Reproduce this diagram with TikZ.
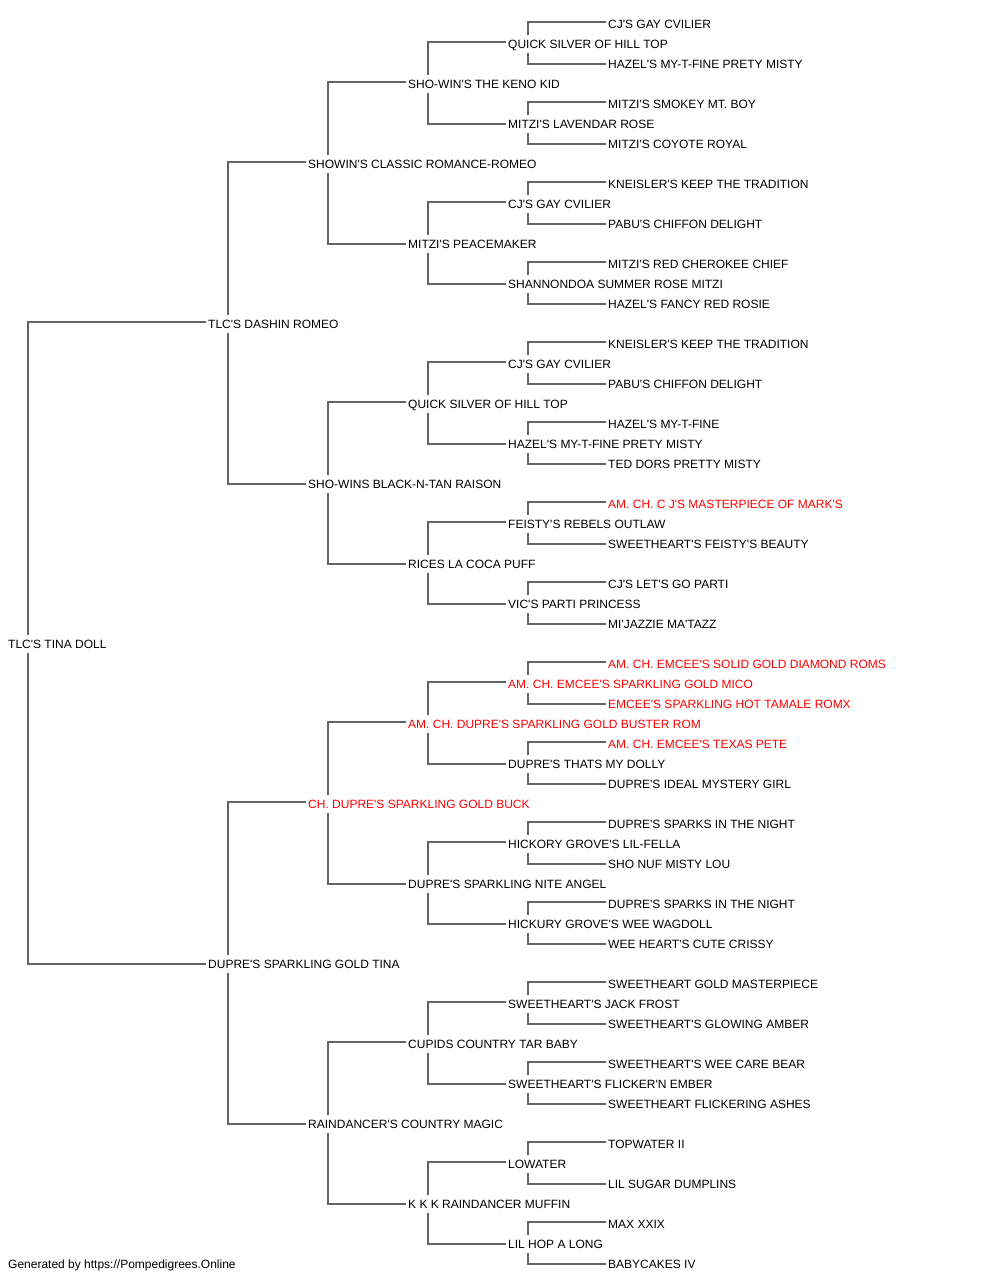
\documentclass[tikz,border=0pt]{standalone}
\usepackage{fontspec}
\newfontfamily\arialfont{Liberation Sans}
\definecolor{linegray}{RGB}{100,100,100}
\definecolor{redname}{RGB}{255,0,0}
\begin{document}
\begin{tikzpicture}[x=1pt,y=-1pt,
  lbl/.style={anchor=west,inner sep=0pt,text height=10pt,text depth=0pt,font=\arialfont\fontsize{12}{14}\selectfont},
  redlbl/.style={lbl,text=redname},
  conn/.style={draw=linegray,line width=1.1pt}]
\useasboundingbox[fill=white] (0,0) rectangle (1000,1280);
% level 0
\node[lbl] (n0-0) at (8,643) {TLC'S TINA DOLL};
% level 1
\node[lbl] (n1-0) at (208,323) {TLC'S DASHIN ROMEO};
\node[lbl] (n1-1) at (208,963) {DUPRE'S SPARKLING GOLD TINA};
% level 2
\node[lbl] (n2-0) at (308,163) {SHOWIN'S CLASSIC ROMANCE-ROMEO};
\node[lbl] (n2-1) at (308,483) {SHO-WINS BLACK-N-TAN RAISON};
\node[redlbl] (n2-2) at (308,803) {CH. DUPRE'S SPARKLING GOLD BUCK};
\node[lbl] (n2-3) at (308,1123) {RAINDANCER'S COUNTRY MAGIC};
% level 3
\node[lbl] (n3-0) at (408,83) {SHO-WIN'S THE KENO KID};
\node[lbl] (n3-1) at (408,243) {MITZI'S PEACEMAKER};
\node[lbl] (n3-2) at (408,403) {QUICK SILVER OF HILL TOP};
\node[lbl] (n3-3) at (408,563) {RICES LA COCA PUFF};
\node[redlbl] (n3-4) at (408,723) {AM. CH. DUPRE'S SPARKLING GOLD BUSTER ROM};
\node[lbl] (n3-5) at (408,883) {DUPRE'S SPARKLING NITE ANGEL};
\node[lbl] (n3-6) at (408,1043) {CUPIDS COUNTRY TAR BABY};
\node[lbl] (n3-7) at (408,1203) {K K K RAINDANCER MUFFIN};
% level 4
\node[lbl] (n4-0) at (508,43) {QUICK SILVER OF HILL TOP};
\node[lbl] (n4-1) at (508,123) {MITZI'S LAVENDAR ROSE};
\node[lbl] (n4-2) at (508,203) {CJ'S GAY CVILIER};
\node[lbl] (n4-3) at (508,283) {SHANNONDOA SUMMER ROSE MITZI};
\node[lbl] (n4-4) at (508,363) {CJ'S GAY CVILIER};
\node[lbl] (n4-5) at (508,443) {HAZEL'S MY-T-FINE PRETY MISTY};
\node[lbl] (n4-6) at (508,523) {FEISTY'S REBELS OUTLAW};
\node[lbl] (n4-7) at (508,603) {VIC'S PARTI PRINCESS};
\node[redlbl] (n4-8) at (508,683) {AM. CH. EMCEE'S SPARKLING GOLD MICO};
\node[lbl] (n4-9) at (508,763) {DUPRE'S THATS MY DOLLY};
\node[lbl] (n4-10) at (508,843) {HICKORY GROVE'S LIL-FELLA};
\node[lbl] (n4-11) at (508,923) {HICKURY GROVE'S WEE WAGDOLL};
\node[lbl] (n4-12) at (508,1003) {SWEETHEART'S JACK FROST};
\node[lbl] (n4-13) at (508,1083) {SWEETHEART'S FLICKER'N EMBER};
\node[lbl] (n4-14) at (508,1163) {LOWATER};
\node[lbl] (n4-15) at (508,1243) {LIL HOP A LONG};
% level 5
\node[lbl] (n5-0) at (608,23) {CJ'S GAY CVILIER};
\node[lbl] (n5-1) at (608,63) {HAZEL'S MY-T-FINE PRETY MISTY};
\node[lbl] (n5-2) at (608,103) {MITZI'S SMOKEY MT. BOY};
\node[lbl] (n5-3) at (608,143) {MITZI'S COYOTE ROYAL};
\node[lbl] (n5-4) at (608,183) {KNEISLER'S KEEP THE TRADITION};
\node[lbl] (n5-5) at (608,223) {PABU'S CHIFFON DELIGHT};
\node[lbl] (n5-6) at (608,263) {MITZI'S RED CHEROKEE CHIEF};
\node[lbl] (n5-7) at (608,303) {HAZEL'S FANCY RED ROSIE};
\node[lbl] (n5-8) at (608,343) {KNEISLER'S KEEP THE TRADITION};
\node[lbl] (n5-9) at (608,383) {PABU'S CHIFFON DELIGHT};
\node[lbl] (n5-10) at (608,423) {HAZEL'S MY-T-FINE};
\node[lbl] (n5-11) at (608,463) {TED DORS PRETTY MISTY};
\node[redlbl] (n5-12) at (608,503) {AM. CH. C J'S MASTERPIECE OF MARK'S};
\node[lbl] (n5-13) at (608,543) {SWEETHEART'S FEISTY'S BEAUTY};
\node[lbl] (n5-14) at (608,583) {CJ'S LET'S GO PARTI};
\node[lbl] (n5-15) at (608,623) {MI'JAZZIE MA'TAZZ};
\node[redlbl] (n5-16) at (608,663) {AM. CH. EMCEE'S SOLID GOLD DIAMOND ROMS};
\node[redlbl] (n5-17) at (608,703) {EMCEE'S SPARKLING HOT TAMALE ROMX};
\node[redlbl] (n5-18) at (608,743) {AM. CH. EMCEE'S TEXAS PETE};
\node[lbl] (n5-19) at (608,783) {DUPRE'S IDEAL MYSTERY GIRL};
\node[lbl] (n5-20) at (608,823) {DUPRE'S SPARKS IN THE NIGHT};
\node[lbl] (n5-21) at (608,863) {SHO NUF MISTY LOU};
\node[lbl] (n5-22) at (608,903) {DUPRE'S SPARKS IN THE NIGHT};
\node[lbl] (n5-23) at (608,943) {WEE HEART'S CUTE CRISSY};
\node[lbl] (n5-24) at (608,983) {SWEETHEART GOLD MASTERPIECE};
\node[lbl] (n5-25) at (608,1023) {SWEETHEART'S GLOWING AMBER};
\node[lbl] (n5-26) at (608,1063) {SWEETHEART'S WEE CARE BEAR};
\node[lbl] (n5-27) at (608,1103) {SWEETHEART FLICKERING ASHES};
\node[lbl] (n5-28) at (608,1143) {TOPWATER II};
\node[lbl] (n5-29) at (608,1183) {LIL SUGAR DUMPLINS};
\node[lbl] (n5-30) at (608,1223) {MAX XXIX};
\node[lbl] (n5-31) at (608,1263) {BABYCAKES IV};
% footer
\node[lbl] (footer) at (8,1263) {Generated by https://Pompedigrees.Online};
% connectors
\foreach \L in {0,...,4} {
  \pgfmathtruncatemacro\N{2^\L-1}
  \pgfmathtruncatemacro\M{\L+1}
  \foreach \i in {0,...,\N} {
    \pgfmathtruncatemacro\s{2*\i}
    \pgfmathtruncatemacro\d{2*\i+1}
    \draw[conn] ([xshift=20pt,yshift=8pt]n\L-\i.west) |- ([xshift=-2pt,yshift=1pt]n\M-\s.west);
    \draw[conn] ([xshift=20pt,yshift=-10pt]n\L-\i.west) |- ([xshift=-2pt,yshift=-1pt]n\M-\d.west);
  }
}
\end{tikzpicture}
\end{document}
